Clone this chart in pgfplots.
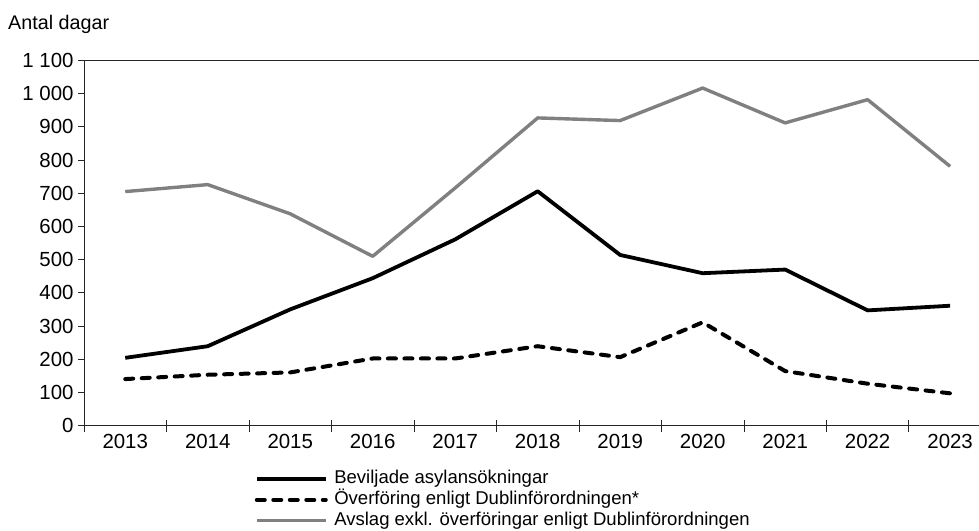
\documentclass[border=0pt]{standalone}
\usepackage{fontspec}
\setmainfont{Liberation Sans}
\usepackage{pgfplots}
\pgfplotsset{compat=1.18}
\definecolor{grayline}{RGB}{128,128,128}
\begin{document}
\begin{tikzpicture}
\begin{axis}[
  scale only axis,
  width=895bp, height=365bp,
  xmin=2012.5, xmax=2023.35,
  ymin=0, ymax=1100,
  axis lines*=left,
  axis line style={line width=0.8bp, black!85},
  tick style={line width=0.8bp, black!85},
  tick align=center,
  major tick length=6bp,
  minor tick length=12bp,
  xtick={2013,2014,2015,2016,2017,2018,2019,2020,2021,2022,2023},
  xticklabels={2013,2014,2015,2016,2017,2018,2019,2020,2021,2022,2023},
  major x tick style={draw=none},
  minor xtick={2012.5,2013.5,2014.5,2015.5,2016.5,2017.5,2018.5,2019.5,2020.5,2021.5,2022.5},
  ytick={0,100,200,300,400,500,600,700,800,900,1000,1100},
  yticklabels={0,100,200,300,400,500,600,700,800,900,1 000,1 100},
  major y tick style={xshift=-3bp},
  /pgf/number format/assume math mode=true,
  ticklabel style={font=\fontsize{20.5}{24}\selectfont},
  yticklabel style={xshift=-4bp},
  xticklabel style={yshift=-2bp},
  clip=false,
  legend style={at={(rel axis cs:0.1906,-0.118)}, anchor=north west,
    draw=none, fill=none, inner sep=0pt,
    font=\fontsize{18.6}{20}\selectfont,
    nodes={inner sep=1.5bp, text height=13.5bp, text depth=4bp},
    row sep=0.3bp,
    /tikz/every odd column/.append style={column sep=5bp}},
  legend cell align=left,
  legend image code/.code={\draw[#1] (0bp,0bp) -- (69bp,0bp);},
]
\addplot[black, line width=3.8bp, line join=round] coordinates {
 (2013,204) (2014,239) (2015,350) (2016,444) (2017,561) (2018,706)
 (2019,514) (2020,459) (2021,470) (2022,347) (2023,361)};
\addlegendentry{Beviljade asylansökningar}
\addplot[black, line width=4bp, line cap=round, line join=round, dash pattern=on 8bp off 8.5bp] coordinates {
 (2013,140) (2014,153) (2015,160) (2016,202) (2017,202) (2018,239)
 (2019,206) (2020,311) (2021,164) (2022,126) (2023,97)};
\addlegendentry{Överföring enligt Dublinförordningen*}
\addplot[grayline, line width=3.4bp, line join=round] coordinates {
 (2013,705) (2014,726) (2015,638) (2016,510) (2017,716) (2018,927)
 (2019,919) (2020,1017) (2021,912) (2022,982) (2023,781)};
\addlegendentry{Avslag exkl. överföringar enligt Dublinförordningen}
\draw[line width=0.8bp, black!85] (rel axis cs:0,1) -- (rel axis cs:1,1);
\node[anchor=base west, font=\fontsize{19.8}{22}\selectfont, inner sep=0pt] at (rel axis cs:-0.0849,1.0855) {Antal dagar};
\coordinate (BBsw) at (rel axis cs:-0.09385,-0.2863);
\coordinate (BBne) at (rel axis cs:1,1.1658);
\end{axis}
\pgfresetboundingbox
\path (BBsw) rectangle (BBne);
\end{tikzpicture}
\end{document}
